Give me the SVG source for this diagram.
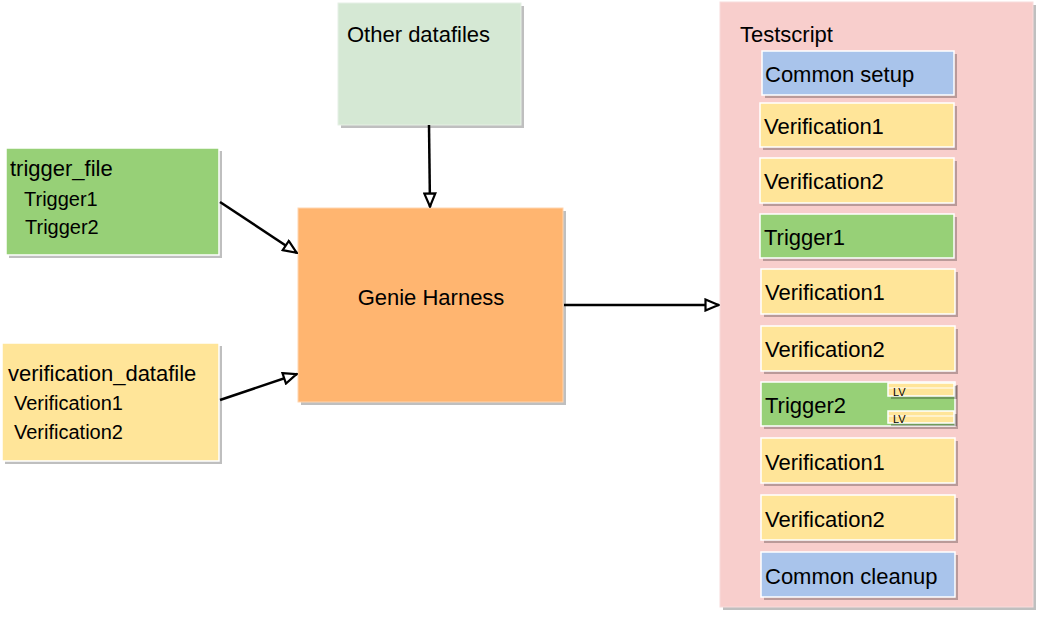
<svg xmlns="http://www.w3.org/2000/svg" width="1040" height="617" viewBox="0 0 1040 617">
<defs>
<marker id="arr" viewBox="0 0 16 14" refX="15" refY="7" markerWidth="16" markerHeight="14" markerUnits="userSpaceOnUse" orient="auto">
<path d="M1.5,1.5 L14.5,7 L1.5,12.5 Z" fill="#fff" stroke="#000" stroke-width="2.2"/>
</marker>
</defs>
<style>
text{font-family:"Liberation Sans",Arial,sans-serif;font-size:22px;fill:#000}
.it{font-size:20px}
.sh{fill:#000;fill-opacity:0.25}
.b{stroke:#fff;stroke-width:1.5}
.g{fill:#97D077}.y{fill:#FFE599}.bl{fill:#A9C4EB}
.lv{font-size:11px}
.c{fill:none;stroke:#000;stroke-width:2.5}
</style>
<rect width="1040" height="617" fill="#fff"/>
<g id="testscript">
<rect class="sh" x="723" y="5" width="313" height="605"/>
<rect x="720" y="2" width="313" height="605" fill="#F8CECC" stroke="#f8dcdc"/>
<text x="740" y="42">Testscript</text>
</g>
<g id="ts-common-setup"><rect class="sh" x="765" y="54" width="192" height="44"/><rect class="b bl" x="762" y="51" width="192" height="44"/><text x="765" y="82">Common setup</text></g>
<g id="ts-verification1-a"><rect class="sh" x="763" y="106" width="194" height="44"/><rect class="b y" x="760" y="103" width="194" height="44"/><text x="764" y="134">Verification1</text></g>
<g id="ts-verification2-a"><rect class="sh" x="763" y="161" width="194" height="45"/><rect class="b y" x="760" y="158" width="194" height="45"/><text x="764" y="189">Verification2</text></g>
<g id="ts-trigger1"><rect class="sh" x="763" y="217" width="194" height="44"/><rect class="b g" x="760" y="214" width="194" height="44"/><text x="764" y="245">Trigger1</text></g>
<g id="ts-verification1-b"><rect class="sh" x="764" y="272" width="194" height="45"/><rect class="b y" x="761" y="269" width="194" height="45"/><text x="765" y="300">Verification1</text></g>
<g id="ts-verification2-b"><rect class="sh" x="764" y="329" width="194" height="45"/><rect class="b y" x="761" y="326" width="194" height="45"/><text x="765" y="357">Verification2</text></g>
<g id="ts-trigger2"><rect class="sh" x="764" y="385" width="194" height="44"/><rect class="b g" x="761" y="382" width="194" height="44"/><text x="765" y="413">Trigger2</text></g>
<g id="ts-lv1"><rect class="sh" x="891" y="386" width="66" height="13"/><rect class="b y" x="888" y="383" width="66" height="13"/><line x1="888" y1="388" x2="954" y2="388" stroke="#fff"/><text class="lv" x="893" y="396">LV</text></g>
<g id="ts-lv2"><rect class="sh" x="891" y="414" width="66" height="12"/><rect class="b y" x="888" y="411" width="66" height="12"/><line x1="888" y1="416" x2="954" y2="416" stroke="#fff"/><text class="lv" x="893" y="423">LV</text></g>
<g id="ts-verification1-c"><rect class="sh" x="764" y="441" width="194" height="45"/><rect class="b y" x="761" y="438" width="194" height="45"/><text x="765" y="470">Verification1</text></g>
<g id="ts-verification2-c"><rect class="sh" x="764" y="498" width="194" height="45"/><rect class="b y" x="761" y="495" width="194" height="45"/><text x="765" y="527">Verification2</text></g>
<g id="ts-common-cleanup"><rect class="sh" x="764" y="555" width="194" height="45"/><rect class="b bl" x="761" y="552" width="194" height="45"/><text x="765" y="584">Common cleanup</text></g>
<g id="other-datafiles"><rect class="sh" x="341" y="6" width="183" height="122"/><rect x="338" y="3" width="183" height="122" fill="#D5E8D4" stroke="#e6f0e5"/><text x="347" y="42">Other datafiles</text></g>
<g id="trigger-file"><rect class="sh" x="9" y="151" width="213" height="107"/><rect class="b g" x="6" y="148" width="213" height="107"/><text x="10" y="176">trigger_file</text><text class="it" x="24" y="206">Trigger1</text><text class="it" x="25" y="234">Trigger2</text></g>
<g id="verification-datafile"><rect class="sh" x="5" y="346" width="217" height="118"/><rect class="b y" x="2" y="343" width="217" height="118"/><text x="8" y="381">verification_datafile</text><text class="it" x="14" y="410">Verification1</text><text class="it" x="14" y="439">Verification2</text></g>
<g id="genie-harness"><rect class="sh" x="301" y="211" width="265" height="194"/><rect x="298" y="208" width="265" height="194" fill="#FFB570" stroke="#ffd5b0"/><text x="431" y="305" text-anchor="middle">Genie Harness</text></g>
<g id="connectors">
<line class="c" x1="429" y1="125" x2="430" y2="207" marker-end="url(#arr)"/>
<line class="c" x1="220" y1="202" x2="297" y2="253" marker-end="url(#arr)"/>
<line class="c" x1="220" y1="400" x2="297" y2="374" marker-end="url(#arr)"/>
<line class="c" x1="564" y1="305" x2="719" y2="305" marker-end="url(#arr)"/>
</g>
</svg>
